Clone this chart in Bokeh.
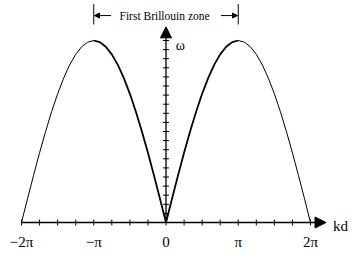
from bokeh.plotting import figure
from bokeh.models import Arrow, NormalHead, Range1d
from bokeh.core.properties import value
from bokeh.embed import file_html
from bokeh.resources import INLINE

# kd in units of pi (right half), omega normalised to the peak
kd_half = [0, 1/12, 2/12, 3/12, 4/12, 5/12, 6/12, 7/12, 8/12, 9/12, 10/12, 11/12, 1,
           13/12, 14/12, 15/12, 16/12, 17/12, 18/12, 19/12, 20/12, 21/12, 22/12, 23/12, 2]
omega_half = [0, 0.131, 0.259, 0.383, 0.500, 0.609, 0.707, 0.793, 0.866, 0.924, 0.966, 0.991, 1.0,
              0.991, 0.966, 0.924, 0.866, 0.793, 0.707, 0.609, 0.500, 0.383, 0.259, 0.131, 0]

x_tick_pos = [-2, -1, 0, 1, 2]
x_tick_labels = ["\u22122\u03c0", "\u2212\u03c0", "0", "\u03c0", "2\u03c0"]
x_minor = [i / 4 for i in range(-8, 9)]
y_minor = [i / 20 for i in range(1, 21)]

FONT = value("Liberation Serif")

p = figure(width=356, height=255, output_backend="svg", toolbar_location=None,
           x_range=Range1d(-2.2907, 2.6367), y_range=Range1d(-0.1813, 1.2198),
           min_border=0, outline_line_color=None)
p.axis.visible = False
p.grid.visible = False

inner_r = [(k, w) for k, w in zip(kd_half, omega_half) if k <= 1]
outer_r = [(k, w) for k, w in zip(kd_half, omega_half) if k >= 1]
p.line([k for k, _ in inner_r], [w for _, w in inner_r], line_color="black", line_width=1.8)
p.line([k for k, _ in outer_r], [w for _, w in outer_r], line_color="black", line_width=1.0)
p.line([-k for k, _ in inner_r], [w for _, w in inner_r], line_color="black", line_width=1.8)
p.line([-k for k, _ in outer_r], [w for _, w in outer_r], line_color="black", line_width=1.0)

# x axis with arrow
p.add_layout(Arrow(end=NormalHead(size=11, fill_color="black", line_color="black"),
                   x_start=-2, y_start=0, x_end=2.215, y_end=0,
                   line_color="black", line_width=1.3))
# y axis with arrow
p.add_layout(Arrow(end=NormalHead(size=11, fill_color="black", line_color="black"),
                   x_start=0, y_start=0, x_end=0, y_end=1.075,
                   line_color="black", line_width=1.3))

# x ticks
dy = 3 / 182
p.segment(x0=x_minor, y0=[-dy] * len(x_minor), x1=x_minor, y1=[dy] * len(x_minor),
          line_color="black", line_width=1)
# y ticks
dx = 3 / 72.25
p.segment(x0=[-dx] * len(y_minor), y0=y_minor, x1=[dx] * len(y_minor), y1=y_minor,
          line_color="black", line_width=1)

# tick labels
p.text(x=x_tick_pos, y=[-0.108] * 5, text=x_tick_labels, text_font=FONT,
       text_font_size="15px", text_align="center", text_baseline="middle", text_color="black")
p.text(x=[2.31], y=[-0.02], text=["kd"], text_font=FONT, text_font_size="15px",
       text_align="left", text_baseline="middle", text_color="black")
p.text(x=[0.135], y=[0.975], text=["\u03c9"], text_font=FONT, text_font_size="14px",
       text_align="left", text_baseline="middle", text_color="black")

# Brillouin zone annotation
p.text(x=[-0.02], y=[1.135], text=["First Brillouin zone"], text_font=FONT,
       text_font_size="11.5px", text_align="center", text_baseline="middle", text_color="black")
p.add_layout(Arrow(end=NormalHead(size=5, fill_color="black", line_color="black"),
                   x_start=-0.76, y_start=1.137, x_end=-0.99, y_end=1.137,
                   line_color="black", line_width=1))
p.add_layout(Arrow(end=NormalHead(size=5, fill_color="black", line_color="black"),
                   x_start=0.76, y_start=1.137, x_end=0.99, y_end=1.137,
                   line_color="black", line_width=1))
p.segment(x0=[-1, 1], y0=[1.088, 1.088], x1=[-1, 1], y1=[1.2, 1.2],
          line_color="black", line_width=1)

open("out.html", "w").write(file_html(p, INLINE))
